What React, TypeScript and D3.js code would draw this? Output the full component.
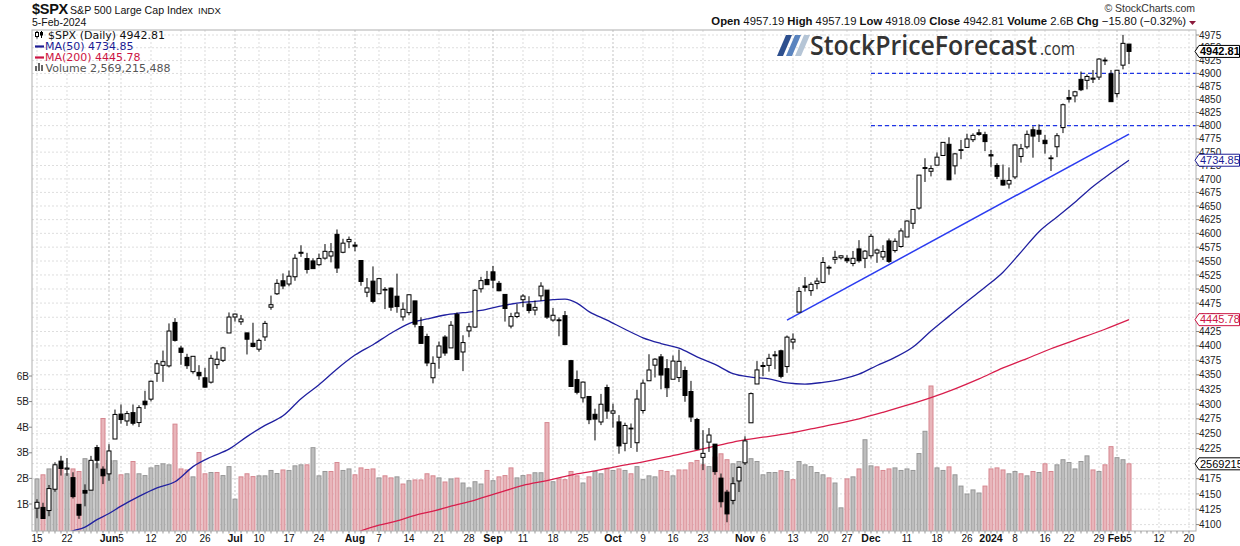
import React, { useEffect } from "react";
import * as d3 from "d3";

const dates = [
"2023-05-15","2023-05-16","2023-05-17","2023-05-18","2023-05-19","2023-05-22","2023-05-23","2023-05-24","2023-05-25","2023-05-26",
"2023-05-30","2023-05-31","2023-06-01","2023-06-02","2023-06-05","2023-06-06","2023-06-07","2023-06-08","2023-06-09",
"2023-06-12","2023-06-13","2023-06-14","2023-06-15","2023-06-16","2023-06-20","2023-06-21","2023-06-22","2023-06-23",
"2023-06-26","2023-06-27","2023-06-28","2023-06-29","2023-06-30","2023-07-03","2023-07-05","2023-07-06","2023-07-07",
"2023-07-10","2023-07-11","2023-07-12","2023-07-13","2023-07-14","2023-07-17","2023-07-18","2023-07-19","2023-07-20","2023-07-21",
"2023-07-24","2023-07-25","2023-07-26","2023-07-27","2023-07-28","2023-07-31","2023-08-01","2023-08-02","2023-08-03","2023-08-04",
"2023-08-07","2023-08-08","2023-08-09","2023-08-10","2023-08-11","2023-08-14","2023-08-15","2023-08-16","2023-08-17","2023-08-18",
"2023-08-21","2023-08-22","2023-08-23","2023-08-24","2023-08-25","2023-08-28","2023-08-29","2023-08-30","2023-08-31","2023-09-01",
"2023-09-05","2023-09-06","2023-09-07","2023-09-08","2023-09-11","2023-09-12","2023-09-13","2023-09-14","2023-09-15",
"2023-09-18","2023-09-19","2023-09-20","2023-09-21","2023-09-22","2023-09-25","2023-09-26","2023-09-27","2023-09-28","2023-09-29",
"2023-10-02","2023-10-03","2023-10-04","2023-10-05","2023-10-06","2023-10-09","2023-10-10","2023-10-11","2023-10-12","2023-10-13",
"2023-10-16","2023-10-17","2023-10-18","2023-10-19","2023-10-20","2023-10-23","2023-10-24","2023-10-25","2023-10-26","2023-10-27",
"2023-10-30","2023-10-31","2023-11-01","2023-11-02","2023-11-03","2023-11-06","2023-11-07","2023-11-08","2023-11-09","2023-11-10",
"2023-11-13","2023-11-14","2023-11-15","2023-11-16","2023-11-17","2023-11-20","2023-11-21","2023-11-22","2023-11-24",
"2023-11-27","2023-11-28","2023-11-29","2023-11-30","2023-12-01","2023-12-04","2023-12-05","2023-12-06","2023-12-07","2023-12-08",
"2023-12-11","2023-12-12","2023-12-13","2023-12-14","2023-12-15","2023-12-18","2023-12-19","2023-12-20","2023-12-21","2023-12-22",
"2023-12-26","2023-12-27","2023-12-28","2023-12-29","2024-01-02","2024-01-03","2024-01-04","2024-01-05",
"2024-01-08","2024-01-09","2024-01-10","2024-01-11","2024-01-12","2024-01-16","2024-01-17","2024-01-18","2024-01-19",
"2024-01-22","2024-01-23","2024-01-24","2024-01-25","2024-01-26","2024-01-29","2024-01-30","2024-01-31","2024-02-01","2024-02-02","2024-02-05"
];

const futureDates = ["2024-02-06","2024-02-07","2024-02-08","2024-02-09","2024-02-12","2024-02-13","2024-02-14","2024-02-15","2024-02-16","2024-02-20"];

const opens = [
4126.65,4127.95,4122.85,4157.68,4204.15,4190.78,4176.80,4132.96,4155.71,4156.16,
4226.71,4190.74,4183.03,4241.01,4282.99,4271.34,4285.47,4268.69,4304.88,
4308.32,4352.61,4366.29,4365.33,4440.95,4396.11,4380.01,4355.40,4354.17,
4344.84,4337.36,4367.48,4374.94,4422.44,4450.48,4442.04,4422.62,4404.54,
4394.23,4415.55,4467.69,4491.50,4514.61,4508.86,4521.78,4563.87,4554.38,4550.16,
4543.39,4555.19,4558.96,4598.26,4565.75,4584.82,4578.83,4550.93,4494.27,4513.96,
4491.58,4498.03,4501.57,4487.16,4450.69,4458.13,4478.87,4433.79,4416.32,4344.88,
4380.28,4415.33,4396.44,4455.16,4389.38,4426.03,4432.75,4500.34,4517.01,4530.60,
4510.06,4490.35,4434.55,4451.30,4480.98,4473.27,4462.65,4487.78,4497.98,
4445.13,4445.41,4452.81,4374.36,4341.74,4310.62,4312.88,4282.63,4269.65,4328.18,
4284.52,4269.75,4233.83,4259.31,4234.79,4289.02,4339.75,4366.59,4380.94,4360.49,
4342.37,4345.23,4357.35,4321.36,4273.85,4210.40,4235.79,4232.42,4175.99,4152.93,
4139.39,4171.33,4201.27,4268.26,4334.23,4364.27,4366.21,4384.37,4391.41,4364.15,
4406.66,4458.97,4505.30,4497.08,4509.55,4511.70,4538.77,4553.04,4555.84,
4554.86,4545.55,4571.84,4554.87,4559.43,4564.37,4557.25,4586.23,4568.84,4576.20,
4593.39,4618.30,4646.20,4721.04,4714.23,4725.58,4743.72,4764.73,4724.29,4753.92,
4758.86,4773.45,4786.44,4782.88,4745.20,4725.07,4697.42,4690.57,
4703.70,4741.93,4759.94,4792.13,4791.18,4772.35,4739.13,4760.10,4796.28,
4853.42,4856.80,4888.56,4886.66,4888.91,4892.95,4925.89,4899.19,4861.11,4916.06,4957.19
];

const highs = [
4141.25,4135.54,4164.67,4202.20,4212.91,4209.22,4185.68,4132.96,4165.74,4212.87,
4231.10,4195.44,4232.43,4290.67,4299.28,4288.33,4299.19,4298.01,4322.62,
4340.13,4375.37,4391.82,4439.20,4448.47,4400.15,4386.22,4382.25,4366.55,
4362.06,4384.42,4390.35,4398.39,4458.48,4456.46,4454.06,4422.62,4440.39,
4412.60,4443.64,4488.34,4517.38,4527.76,4532.85,4562.30,4578.43,4564.74,4555.00,
4563.41,4580.62,4582.47,4607.07,4590.16,4594.22,4584.62,4550.93,4519.49,4540.34,
4519.84,4503.31,4502.44,4527.37,4476.23,4490.33,4478.87,4449.95,4421.17,4381.82,
4407.55,4418.59,4443.18,4458.30,4418.46,4439.56,4500.14,4521.65,4532.26,4541.25,
4514.29,4490.35,4457.81,4473.53,4490.77,4487.11,4479.39,4511.99,4497.98,
4466.36,4449.85,4461.03,4375.70,4357.40,4338.51,4313.01,4292.07,4317.27,4333.15,
4300.58,4281.15,4268.50,4267.13,4324.10,4341.73,4385.46,4378.64,4385.85,4377.10,
4383.33,4393.57,4364.20,4339.54,4276.56,4255.84,4259.38,4232.42,4183.60,4156.70,
4177.47,4195.55,4245.64,4319.72,4373.62,4372.21,4386.26,4391.20,4393.40,4418.03,
4421.76,4503.38,4521.17,4511.99,4520.12,4557.11,4542.14,4568.43,4560.31,
4560.52,4568.14,4587.64,4569.89,4599.39,4572.37,4578.56,4590.74,4590.92,4609.23,
4623.72,4643.93,4707.09,4738.57,4725.53,4749.52,4768.69,4778.01,4748.71,4772.94,
4784.72,4785.39,4793.30,4788.43,4754.33,4729.29,4726.78,4721.49,
4764.54,4765.47,4790.80,4798.50,4802.40,4782.34,4744.23,4785.79,4842.07,
4868.41,4866.48,4903.68,4898.15,4906.69,4929.31,4931.09,4906.75,4906.97,4975.29,4957.19
];

const lows = [
4110.27,4109.86,4113.62,4153.50,4180.20,4179.68,4142.54,4109.29,4129.73,4156.16,
4192.18,4166.15,4171.64,4241.01,4266.82,4263.09,4263.96,4261.07,4291.70,
4304.37,4337.85,4337.85,4362.60,4407.44,4367.19,4360.14,4351.82,4341.34,
4328.08,4335.00,4360.22,4371.97,4422.44,4442.29,4436.61,4385.05,4397.40,
4389.92,4408.46,4463.23,4489.36,4499.56,4504.90,4514.59,4557.48,4527.56,4535.79,
4541.29,4552.42,4547.58,4528.56,4564.01,4573.14,4567.53,4505.75,4485.54,4474.55,
4491.15,4464.39,4461.33,4457.92,4443.98,4453.44,4432.19,4403.55,4364.83,4335.31,
4360.30,4382.77,4396.44,4375.55,4356.29,4414.98,4431.68,4493.59,4507.39,4501.35,
4496.01,4442.38,4430.46,4448.38,4467.89,4456.83,4453.52,4478.69,4447.21,
4442.11,4416.61,4401.38,4329.17,4316.49,4302.70,4265.98,4238.63,4264.38,4274.86,
4260.21,4216.45,4220.48,4225.91,4219.55,4283.79,4339.64,4345.34,4325.43,4311.97,
4342.37,4337.54,4303.84,4269.69,4223.03,4189.22,4219.43,4181.42,4127.90,4103.78,
4132.94,4153.12,4197.74,4268.26,4334.23,4347.53,4355.41,4359.76,4343.94,4353.34,
4393.82,4458.97,4495.31,4487.83,4499.66,4510.36,4525.51,4545.05,4552.80,
4546.32,4540.51,4547.15,4537.24,4554.71,4546.72,4551.68,4546.50,4565.22,4574.06,
4593.39,4608.09,4643.23,4694.34,4704.69,4725.58,4743.72,4697.82,4708.35,4736.77,
4758.45,4768.90,4780.98,4751.99,4722.67,4699.71,4687.53,4682.11,
4699.82,4730.35,4756.20,4739.58,4768.98,4747.12,4714.82,4740.57,4785.87,
4844.05,4844.37,4865.94,4869.34,4881.47,4887.40,4916.27,4845.15,4853.52,4907.99,4918.09
];

const closes = [
4136.28,4109.90,4158.77,4198.05,4191.98,4192.63,4145.58,4115.24,4151.28,4205.45,
4205.52,4179.83,4221.02,4282.37,4273.79,4283.85,4267.52,4293.93,4298.86,
4338.93,4369.01,4372.59,4425.84,4409.59,4388.71,4365.69,4381.89,4348.33,
4328.82,4378.41,4376.86,4396.44,4450.38,4455.59,4446.82,4411.59,4398.95,
4409.53,4439.26,4472.16,4510.04,4505.42,4522.79,4554.98,4565.72,4534.87,4536.34,
4554.64,4567.46,4566.75,4537.41,4582.23,4588.96,4576.73,4513.39,4501.89,4478.03,
4518.44,4499.38,4467.71,4468.83,4464.05,4489.72,4437.86,4404.33,4370.36,4369.71,
4399.77,4387.55,4436.01,4376.31,4405.71,4433.31,4497.63,4514.87,4507.66,4515.77,
4496.83,4465.48,4451.14,4457.49,4487.46,4461.90,4467.44,4505.10,4450.32,
4453.53,4443.95,4402.20,4330.00,4320.06,4337.44,4273.53,4274.51,4299.70,4288.05,
4288.39,4229.45,4263.75,4258.19,4308.50,4335.66,4358.24,4376.95,4349.61,4327.78,
4373.63,4373.20,4314.60,4278.00,4224.16,4217.04,4247.68,4186.77,4137.23,4117.37,
4166.82,4193.80,4237.86,4317.78,4358.34,4365.98,4378.38,4382.78,4347.35,4415.24,
4411.55,4495.70,4502.88,4508.24,4514.02,4547.38,4538.19,4556.62,4559.34,
4550.43,4554.89,4550.58,4567.80,4594.63,4569.78,4567.18,4549.34,4585.59,4604.37,
4622.44,4643.70,4707.09,4719.55,4719.19,4740.56,4768.37,4698.35,4746.75,4754.63,
4774.75,4781.58,4783.35,4769.83,4742.83,4704.81,4688.68,4697.24,
4763.54,4756.50,4783.45,4780.24,4783.83,4765.98,4739.21,4780.94,4839.81,
4850.43,4864.60,4868.55,4894.16,4890.97,4927.93,4924.97,4845.65,4906.19,4958.61,4942.81
];

// volume in billions
const volumes = [
1.98,2.14,2.37,2.46,2.41,2.18,2.37,2.27,2.77,2.66,
2.57,4.34,2.70,2.69,2.14,2.18,2.66,2.18,2.11,
2.41,2.50,2.57,2.53,4.12,2.37,2.33,2.06,3.01,
2.18,2.23,2.23,2.11,2.46,1.19,2.06,2.18,2.07,
2.10,2.10,2.31,2.19,2.33,2.31,2.49,2.53,2.53,3.20,
2.10,2.27,2.27,2.62,2.31,2.37,2.14,2.41,2.35,2.37,
2.02,2.10,2.02,2.06,1.78,1.91,1.94,1.94,2.18,2.10,
2.02,1.86,1.98,2.01,1.82,1.63,1.87,1.78,2.31,1.91,
2.06,2.11,2.41,2.02,2.11,2.14,2.22,2.22,4.18,
1.87,1.98,1.95,2.27,2.10,1.82,2.06,2.27,2.18,2.37,
2.31,2.37,2.31,2.18,2.46,1.95,2.10,2.06,2.31,2.27,
2.10,2.33,2.33,2.61,2.70,2.53,2.46,2.83,2.96,2.73,
2.57,2.66,2.66,2.77,2.66,2.14,2.23,2.23,2.30,2.27,
1.95,2.66,2.53,2.46,2.23,2.14,2.02,1.82,0.85,
1.98,2.06,2.37,3.51,2.49,2.45,2.31,2.37,2.41,2.31,
2.37,2.31,2.97,3.84,5.61,2.41,2.31,2.45,2.14,1.70,
1.39,1.55,1.43,1.70,2.37,2.41,2.33,2.18,
2.27,2.18,2.10,2.27,2.23,2.57,2.27,2.53,2.73,
2.62,2.37,2.66,2.88,2.33,2.27,2.53,3.24,2.81,2.73,2.569215488
];

const priorClose = 4124.08;

const ma50Dates = ["2023-05-15","2023-05-18","2023-05-23","2023-05-25","2023-05-30","2023-06-01","2023-06-05","2023-06-08","2023-06-13","2023-06-16","2023-06-22","2023-06-27","2023-06-30","2023-07-06","2023-07-11","2023-07-14","2023-07-19","2023-07-24","2023-07-27","2023-08-01","2023-08-04","2023-08-09","2023-08-14","2023-08-17","2023-08-22","2023-08-25","2023-08-30","2023-09-05","2023-09-08","2023-09-13","2023-09-18","2023-09-20","2023-09-22","2023-09-26","2023-09-29","2023-10-04","2023-10-09","2023-10-12","2023-10-17","2023-10-20","2023-10-25","2023-10-30","2023-11-02","2023-11-07","2023-11-10","2023-11-15","2023-11-20","2023-11-24","2023-11-29","2023-12-04","2023-12-07","2023-12-12","2023-12-15","2023-12-20","2023-12-26","2023-12-29","2024-01-04","2024-01-09","2024-01-12","2024-01-18","2024-01-23","2024-01-26","2024-01-31","2024-02-05"];
const ma50Values = [4078,4083,4090,4096,4108,4118,4130,4146,4160,4170,4195,4211,4224,4245,4264,4280,4309,4333,4360,4384,4402,4422,4439,4447,4454,4458,4462,4469,4475,4478,4481,4482,4475,4460,4445,4429,4414,4404,4396,4381,4368,4352,4346,4343,4336,4334,4337,4342,4351,4366,4380,4398,4426,4452,4478,4503,4530,4566,4603,4630,4657,4686,4711,4734.85];

const ma200Dates = ["2023-07-28","2023-08-02","2023-08-07","2023-08-10","2023-08-15","2023-08-18","2023-08-23","2023-08-29","2023-09-05","2023-09-11","2023-09-15","2023-09-21","2023-09-27","2023-10-03","2023-10-09","2023-10-13","2023-10-19","2023-10-25","2023-10-31","2023-11-06","2023-11-10","2023-11-16","2023-11-22","2023-11-29","2023-12-05","2023-12-11","2023-12-15","2023-12-21","2023-12-28","2024-01-04","2024-01-10","2024-01-17","2024-01-23","2024-01-30","2024-02-05"];
const ma200Values = [4080,4090,4099,4106,4115,4122,4130,4140,4152,4164,4172,4181,4188,4196,4203,4211,4220,4229,4238,4244,4250,4258,4266,4275,4286,4298,4311,4326,4343,4362,4378,4395,4410,4429,4445.78];

const trendDates = ["2023-11-10", "2024-02-05"];
const trendValues = [4445, 4784];
const levelStartDate = "2023-12-01";
const levelValues = [4900, 4800];

const priceTicks = [4100,4125,4150,4175,4200,4225,4250,4275,4300,4325,4350,4375,4400,4425,4450,4475,4500,4525,4550,4575,4600,4625,4650,4675,4700,4725,4750,4775,4800,4825,4850,4875,4900,4925,4950,4975];
const volumeTicks = [1, 2, 3, 4, 5, 6];

const xTickDates = ["2023-05-15","2023-05-22","2023-06-01","2023-06-05","2023-06-12","2023-06-20","2023-06-26","2023-07-03","2023-07-10","2023-07-17","2023-07-24","2023-08-01","2023-08-07","2023-08-14","2023-08-21","2023-08-28","2023-09-01","2023-09-11","2023-09-18","2023-09-25","2023-10-02","2023-10-09","2023-10-16","2023-10-23","2023-11-01","2023-11-06","2023-11-13","2023-11-20","2023-11-27","2023-12-01","2023-12-11","2023-12-18","2023-12-26","2024-01-02","2024-01-08","2024-01-16","2024-01-22","2024-01-29","2024-02-01","2024-02-05","2024-02-12","2024-02-20"];
const xTickLabels = ["15","22","Jun","5","12","20","26","Jul","10","17","24","Aug","7","14","21","28","Sep","11","18","25","Oct","9","16","23","Nov","6","13","20","27","Dec","11","18","26","2024","8","16","22","29","Feb","5","12","20"];
const xTickMajor = ["Jun","Jul","Aug","Sep","Oct","Nov","Dec","2024","Feb"];

const W = 1240, H = 546;
const X0 = 32, X1 = 1196, Y0 = 30, Y1 = 531;
const AX = "'Liberation Sans', Arial, sans-serif";
const LEG = "'DejaVu Sans', Verdana, sans-serif";

const allDates = dates.concat(futureDates);
const idxOf = (d: string) => allDates.indexOf(d);

const x = d3.scaleLinear().domain([-0.833, 193.167]).range([X0, X1]);
const y = d3.scaleLog().domain([4975, 4100]).range([35, 524.6]);
const yv = d3.scaleLinear().domain([0, 6]).range([529.6, 376]);

const lineGen = d3
  .line<[number, number]>()
  .x((d) => x(d[0]))
  .y((d) => y(d[1]))
  .curve(d3.curveMonotoneX);

function PriceBox({ v, label, stroke, color, bold }: any) {
  const yy = y(v);
  const d = `M1195,${yy} L1199,${yy - 6} L1239.5,${yy - 6} L1239.5,${yy + 6} L1199,${yy + 6} Z`;
  return (
    <g>
      <path d={d} fill="#fff" stroke={stroke} strokeWidth={1} />
      <text x={1200} y={yy + 3.8} fontFamily={AX} fontSize={11} fontWeight={bold ? 700 : 400} fill={color}>
        {label}
      </text>
    </g>
  );
}

export default function App() {
  useEffect(() => {
    document.body.style.margin = "0";
  }, []);
  const n = dates.length;
  const last = n - 1;
  const chg = closes[last] - closes[last - 1];
  const pct = (chg / closes[last - 1]) * 100;
  const fmt2 = d3.format(".2f");

  const ma50Pts: [number, number][] = ma50Dates.map((d, i) => [idxOf(d), ma50Values[i]]);
  const ma200Pts: [number, number][] = ma200Dates.map((d, i) => [idxOf(d), ma200Values[i]]);

  return (
    <div style={{ position: "absolute", left: 0, top: 0 }}>
      <svg width={W} height={H} style={{ display: "block", background: "#fff" }}>
        <defs>
          <clipPath id="plotClip">
            <rect x={X0} y={Y0} width={X1 - X0} height={Y1 - Y0} />
          </clipPath>
        </defs>
        <rect x={0} y={0} width={W} height={H} fill="#fff" />

        {/* header */}
        <text x={32} y={14} fontFamily={AX} fontSize={14.5} fontWeight={700} fill="#111" letterSpacing={-0.3}>$SPX</text>
        <text x={70} y={14} fontFamily={AX} fontSize={10.6} fill="#111">S&amp;P 500 Large Cap Index</text>
        <text x={198} y={14} fontFamily={AX} fontSize={9.6} fill="#111">INDX</text>
        <text x={32} y={25.5} fontFamily={AX} fontSize={10.5} fill="#111">5-Feb-2024</text>
        <text x={1195} y={12} textAnchor="end" fontFamily={AX} fontSize={10.5} fill="#333">© StockCharts.com</text>
        <text x={1186} y={25} textAnchor="end" fontFamily={AX} fontSize={11.3} fill="#111">
          <tspan fontWeight={700}>Open</tspan> {fmt2(opens[last])}  <tspan fontWeight={700}>High</tspan> {fmt2(highs[last])}  <tspan fontWeight={700}>Low</tspan> {fmt2(lows[last])}  <tspan fontWeight={700}>Close</tspan> {fmt2(closes[last])}  <tspan fontWeight={700}>Volume</tspan> {d3.format(".1f")(volumes[last])}B  <tspan fontWeight={700}>Chg</tspan> {fmt2(chg)} ({fmt2(pct)}%)
        </text>
        <path d="M1189,21 L1196,21 L1192.5,25 Z" fill="#8b1a3c" />

        {/* grid */}
        <g>
          {priceTicks.map((t) => (
            <line key={"hg" + t} x1={X0} x2={X1} y1={y(t)} y2={y(t)} stroke="#dedede" strokeDasharray="2,2" strokeWidth={1} />
          ))}
          {xTickDates.map((d, i) => (
            <line
              key={"vg" + d}
              x1={x(idxOf(d))}
              x2={x(idxOf(d))}
              y1={Y0}
              y2={Y1}
              stroke={xTickMajor.includes(xTickLabels[i]) ? "#c4c4c4" : "#dcdcdc"}
              strokeDasharray="2,2"
              strokeWidth={1}
            />
          ))}
        </g>

        <g clipPath="url(#plotClip)">
          {/* volume */}
          {volumes.map((v, i) => {
            const prev = i === 0 ? priorClose : closes[i - 1];
            const up = closes[i] >= prev;
            const cx = x(i);
            const top = yv(v);
            return (
              <rect
                key={"v" + i}
                x={cx - 2}
                y={top}
                width={4}
                height={Y1 + 2 - top}
                fill={up ? "#bdbdbd" : "#e8b5ba"}
                stroke={up ? "#979797" : "#d68790"}
                strokeWidth={1}
              />
            );
          })}

          {/* moving averages */}
          <path d={lineGen(ma200Pts) || ""} fill="none" stroke="#d81e4c" strokeWidth={1.3} />
          <path d={lineGen(ma50Pts) || ""} fill="none" stroke="#2020a0" strokeWidth={1.3} />

          {/* annotations */}
          <line
            x1={x(idxOf(trendDates[0]))}
            y1={y(trendValues[0])}
            x2={x(idxOf(trendDates[1]))}
            y2={y(trendValues[1])}
            stroke="#2b3cf0"
            strokeWidth={1.5}
          />
          {levelValues.map((lv) => (
            <line key={"lv" + lv} x1={x(idxOf(levelStartDate))} x2={X1} y1={y(lv)} y2={y(lv)} stroke="#1f35e6" strokeWidth={1.2} strokeDasharray="4,3" />
          ))}

          {/* candles */}
          {closes.map((c, i) => {
            const o = opens[i];
            const cx = x(i);
            const hollow = c >= o;
            const yt = y(Math.max(o, c));
            const yb = y(Math.min(o, c));
            return (
              <g key={"c" + i}>
                <line x1={cx} x2={cx} y1={y(highs[i])} y2={y(lows[i])} stroke="#000" strokeWidth={1} />
                <rect
                  x={cx - 2}
                  y={yt}
                  width={4}
                  height={Math.max(yb - yt, 0.8)}
                  fill={hollow ? "#fff" : "#000"}
                  stroke="#000"
                  strokeWidth={1}
                />
              </g>
            );
          })}
        </g>

        {/* logo */}
        <g>
          {["#2d4f8e", "#5a84bf", "#b5c5d6"].map((col, k) => {
            const bx = 777 + 9 * k;
            return <path key={"sl" + k} d={`M${bx},56 L${bx + 6},56 L${bx + 15},35 L${bx + 9},35 Z`} fill={col} />;
          })}
          <text x={810} y={55} fontFamily="'Open Sans', 'Noto Sans', sans-serif" fontSize={27} fontWeight={600} fill="#333" textLength={227} lengthAdjust="spacingAndGlyphs">StockPriceForecast</text>
          <text x={1040} y={55} fontFamily="'Open Sans', 'Noto Sans', sans-serif" fontSize={18.5} fontWeight={400} fill="#333" textLength={35} lengthAdjust="spacingAndGlyphs">.com</text>
        </g>

        {/* legend */}
        <g fontFamily={LEG} fontSize={11}>
          <line x1={37} x2={37} y1={31} y2={38.5} stroke="#000" />
          <rect x={35.5} y={32.5} width={3} height={4} fill="#fff" stroke="#000" strokeWidth={1} />
          <line x1={41.5} x2={41.5} y1={31} y2={38} stroke="#000" />
          <rect x={40} y={32} width={3} height={3.5} fill="#000" />
          <text x={48} y={38.5} fill="#111">$SPX (Daily) {fmt2(closes[last])}</text>
          <line x1={35} x2={44} y1={46.5} y2={46.5} stroke="#1c1c94" strokeWidth={2.2} />
          <text x={45} y={50} fill="#1c1c94">MA(50) {fmt2(ma50Values[ma50Values.length - 1])}</text>
          <line x1={35} x2={44} y1={57.5} y2={57.5} stroke="#cc1443" strokeWidth={2.2} />
          <text x={45} y={61} fill="#cc1443">MA(200) {fmt2(ma200Values[ma200Values.length - 1])}</text>
          <rect x={35} y={66} width={2} height={5} fill="#666" />
          <rect x={38} y={63} width={2} height={8} fill="#666" />
          <rect x={41} y={65} width={2} height={6} fill="#666" />
          <text x={45.5} y={72} fill="#555">Volume {d3.format(",")(Math.round(volumes[last] * 1e9))}</text>
        </g>

        {/* frame */}
        <rect x={X0} y={Y0} width={X1 - X0} height={Y1 - Y0} fill="none" stroke="#b0b0b0" strokeWidth={1} />

        {/* price axis */}
        <g fontFamily={AX} fontSize={10} fill="#222">
          {priceTicks.map((t) => (
            <g key={"pt" + t}>
              <line x1={X1} x2={X1 + 3} y1={y(t)} y2={y(t)} stroke="#888" />
              <text x={1199} y={y(t) + 3.6}>{t}</text>
            </g>
          ))}
        </g>

        {/* volume axis */}
        <g fontFamily={AX} fontSize={10} fill="#222">
          {volumeTicks.map((t) => (
            <g key={"vt" + t}>
              <line x1={X0 - 3} x2={X0} y1={yv(t)} y2={yv(t)} stroke="#888" />
              <text x={29} y={yv(t) + 3.6} textAnchor="end">{t}B</text>
            </g>
          ))}
        </g>

        {/* date axis */}
        <g>
          {allDates.map((d, i) => (
            <line key={"dt" + d} x1={x(i)} x2={x(i)} y1={Y1} y2={Y1 + 2.5} stroke="#999" />
          ))}
          {xTickDates.map((d, i) => {
            const major = xTickMajor.includes(xTickLabels[i]);
            return (
              <text
                key={"xl" + d}
                x={x(idxOf(d))}
                y={541.5}
                textAnchor="middle"
                fontFamily={AX}
                fontSize={major ? 10.5 : 10}
                fontWeight={major ? 700 : 400}
                fill="#111"
              >
                {xTickLabels[i]}
              </text>
            );
          })}
        </g>

        {/* last value boxes */}
        <PriceBox v={closes[last]} label={fmt2(closes[last])} stroke="#000" color="#000" bold />
        <PriceBox v={ma50Values[ma50Values.length - 1]} label={fmt2(ma50Values[ma50Values.length - 1])} stroke="#1c1c94" color="#1c1c94" />
        <PriceBox v={ma200Values[ma200Values.length - 1]} label={fmt2(ma200Values[ma200Values.length - 1])} stroke="#cc1443" color="#cc1443" />
        {(() => {
          const yy = yv(volumes[last]);
          return (
            <g>
              <path d={`M1195,${yy} L1199,${yy - 6} L1242,${yy - 6} L1242,${yy + 6} L1199,${yy + 6} Z`} fill="#fff" stroke="#000" />
              <text x={1200} y={yy + 3.8} fontFamily={AX} fontSize={11} fill="#000">{Math.round(volumes[last] * 1e6)}</text>
            </g>
          );
        })()}
      </svg>
    </div>
  );
}
